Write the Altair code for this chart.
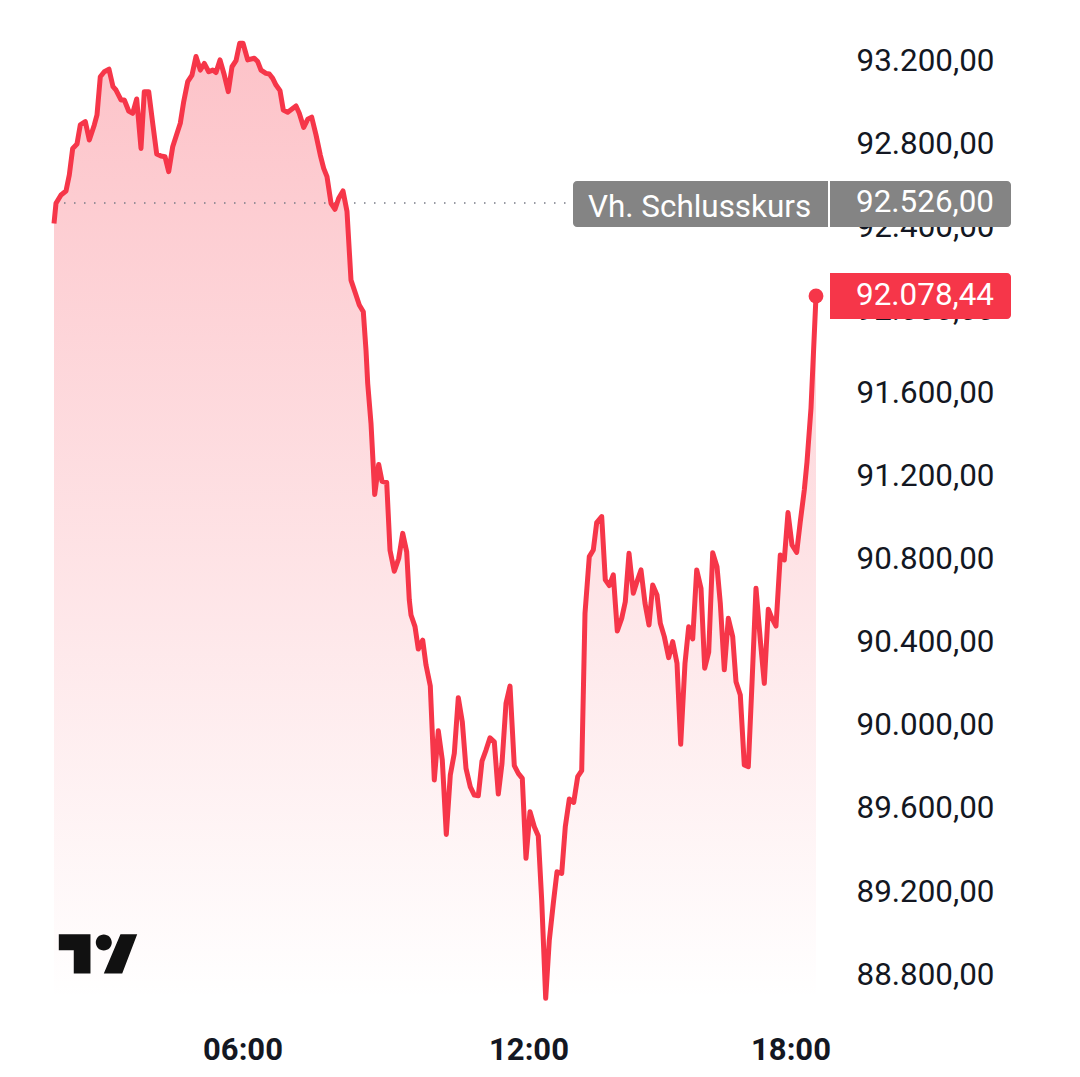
import altair as alt
import pandas as pd

# position along the session axis, and the price at that spot
session_pos = [
    0, 2, 7, 12, 15.3, 18.7, 23, 26.3, 31.3, 35.3, 40.3, 43, 46.3, 50.3, 55, 59, 62, 67, 70.3, 74.7,
    78.7, 82.7, 87, 90.3, 94.7, 98.7, 102.7, 107, 111, 114.7, 118.7, 122, 126.3, 129.7, 133.7, 138, 142,
    146.3, 150.3, 154.7, 158.7, 162, 166, 170.3, 174.3, 178, 182, 185.7, 189, 193.7, 200.3, 203.7, 207,
    212, 215.3, 218.7, 222, 226, 229.3, 233.7, 242, 245.3, 249.7, 253.7, 257.7, 262, 266.3, 269.7, 273,
    277, 281, 284.7, 289, 293, 297, 302, 305.3, 309.3, 312, 313.7, 317, 319.3, 320.7, 324.7, 328, 332.7,
    336, 340.3, 344.7, 348.7, 352.7, 355.3, 357, 361, 364.3, 368.7, 372, 376.3, 380.3, 384.3, 388.3,
    392.3, 396.3, 400.3, 404.3, 408.3, 412, 416.3, 420.3, 424.3, 428, 432, 436, 440.3, 444.3, 448, 452,
    456, 460.3, 464.3, 468.3, 472, 476, 480.3, 484.3, 487.7, 491.7, 495.3, 499.3, 503, 507.7, 511.3,
    515.3, 519.7, 523.7, 527.7, 531, 535.3, 539.3, 542.7, 547.7, 551.3, 555.3, 559.3, 563.3, 567.7,
    571.3, 575, 579.3, 583, 587, 591, 595, 598.7, 603, 606.3, 610.3, 614.7, 618.7, 623, 626.7, 631,
    634.7, 638.7, 642.7, 647, 650.7, 654.7, 658.7, 663, 666.3, 670.3, 674.3, 678.7, 682, 686.3, 690.3,
    694.3, 698, 702, 706.3, 710.3, 714.3, 718, 722, 726.3, 730.3, 734, 738, 742.7, 746.3, 750.3, 753,
    757, 762,
]
price = [
    92428, 92525, 92565, 92584, 92661, 92789, 92810, 92902, 92918, 92829, 92902, 92950, 93134, 93158,
    93170, 93086, 93070, 93022, 93022, 92969, 92958, 93027, 92789, 93062, 93062, 92910, 92762, 92752,
    92749, 92677, 92797, 92846, 92910, 93014, 93110, 93142, 93231, 93166, 93198, 93158, 93166, 93154,
    93215, 93142, 93062, 93182, 93211, 93295, 93295, 93215, 93223, 93207, 93166, 93150, 93147, 93126,
    93094, 93067, 92974, 92963, 92993, 92958, 92890, 92929, 92939, 92854, 92757, 92693, 92653, 92525,
    92496, 92549, 92584, 92485, 92155, 92083, 92035, 92003, 91818, 91658, 91465, 91256, 91123, 91268,
    91187, 91181, 90855, 90754, 90815, 90936, 90847, 90615, 90543, 90487, 90379, 90422, 90302, 90201,
    89749, 89986, 89845, 89487, 89773, 89877, 90145, 90029, 89805, 89716, 89676, 89673, 89840, 89893,
    89952, 89933, 89681, 89829, 90118, 90201, 89818, 89781, 89757, 89372, 89596, 89524, 89479, 89171,
    88698, 88978, 89155, 89307, 89299, 89524, 89657, 89641, 89765, 89794, 90551, 90824, 90856, 90988,
    91017, 90712, 90685, 90736, 90466, 90527, 90607, 90840, 90648, 90704, 90760, 90600, 90495, 90688,
    90640, 90503, 90439, 90338, 90415, 90311, 89921, 90311, 90487, 90428, 90760, 90672, 90287, 90364,
    90843, 90776, 90600, 90279, 90527, 90439, 90222, 90158, 89821, 89813, 90214, 90672, 90423, 90214,
    90571, 90527, 90490, 90832, 90808, 91036, 90880, 90845, 90993, 91145, 91280, 91539, 92078.44,
]

price_ticks = [93200, 92800, 92400, 92000, 91600, 91200, 90800, 90400, 90000, 89600, 89200, 88800]
time_ticks = [190, 476, 738]
time_labels = ["06:00", "12:00", "18:00"]

prev_close = 92526.0
last_price = 92078.44
close_label = "Vh. Schlusskurs"
floor_price = 88690

RED = "#f63649"
GREY = "#848484"
INK = "#131722"
FONT = "Roboto"

df = pd.DataFrame({"pos": session_pos, "price": price})
df["floor"] = floor_price

x_scale = alt.Scale(domain=[0, 762])
y_scale = alt.Scale(domain=[floor_price, 93407], zero=False)

time_expr = "{" + ",".join(f"{p}:'{t}'" for p, t in zip(time_ticks, time_labels)) + "}[datum.value]"
price_expr = "replace(replace(replace(format(datum.value,',.2f'),',','#'),'.',','),'#','.')"

x_enc = alt.X("pos:Q", scale=x_scale, axis=alt.Axis(
    title=None, values=time_ticks, labelExpr=time_expr, grid=False, domain=False, ticks=False,
    labelFont=FONT, labelFontSize=31, labelFontWeight="bold", labelColor=INK, labelPadding=35,
    labelOffset=-1.5,
))
y_enc = alt.Y("price:Q", scale=y_scale, axis=alt.Axis(
    title=None, orient="right", values=price_ticks, labelExpr=price_expr, grid=False, domain=False,
    ticks=False, labelFont=FONT, labelFontSize=31.4, labelColor=INK, labelPadding=40, labelOffset=-2,
    labelBound=False, labelOverlap=False,
))

area = alt.Chart(df).mark_area(
    color=alt.Gradient(
        gradient="linear", x1=0, x2=0, y1=0, y2=1,
        stops=[
            alt.GradientStop(color="rgba(247,54,73,0.30)", offset=0),
            alt.GradientStop(color="rgba(247,54,73,0.0)", offset=1),
        ],
    ),
).encode(x=x_enc, y=y_enc, y2="floor:Q")

dotted = alt.Chart(df.head(1)).mark_rule(color="#787b86", strokeWidth=1.5, strokeDash=[1.5, 8.5]).encode(
    x=alt.datum(0, scale=x_scale), x2=alt.datum(517),
    y=alt.datum(prev_close, scale=y_scale),
)

line = alt.Chart(df).mark_line(color=RED, strokeWidth=5, strokeJoin="round").encode(
    x=alt.X("pos:Q", scale=x_scale), y=alt.Y("price:Q", scale=y_scale),
)

dot = alt.Chart(df.tail(1)).mark_circle(color=RED, size=220, opacity=1).encode(
    x=alt.X("pos:Q", scale=x_scale), y=alt.Y("price:Q", scale=y_scale),
)


def badge(start, end, level, colour, left=False, right=False):
    return alt.Chart(df.head(1)).mark_rect(
        color=colour, height=46,
        cornerRadiusTopLeft=4 if left else 0, cornerRadiusBottomLeft=4 if left else 0,
        cornerRadiusTopRight=4 if right else 0, cornerRadiusBottomRight=4 if right else 0,
    ).encode(
        x=alt.datum(start, scale=x_scale), x2=alt.datum(end),
        y=alt.datum(level, scale=y_scale),
    )


def badge_text(text, at, level, align, nudge):
    return alt.Chart(df.head(1)).mark_text(
        text=text, font=FONT, fontSize=31.4, color="white", align=align, baseline="middle", dy=nudge,
    ).encode(x=alt.datum(at, scale=x_scale), y=alt.datum(level, scale=y_scale))


# TradingView mark, unit coordinates around its centre
logo_path = (
    "M-0.49 -0.246L-0.094 -0.246L-0.094 0.245L-0.303 0.245L-0.303 -0.046L-0.49 -0.046Z"
    "M-0.0275 -0.1425A0.1 0.1 0 1 0 0.1725 -0.1425A0.1 0.1 0 1 0 -0.0275 -0.1425Z"
    "M0.281 -0.246L0.49 -0.246L0.3025 0.245L0.0725 0.245Z"
)
logo = alt.Chart(df.head(1)).mark_point(
    shape=logo_path, size=25600, filled=True, color="#111111", opacity=1, strokeWidth=0,
).encode(x=alt.value(44), y=alt.value(934))

chart = alt.layer(
    area, dotted, line, dot,
    badge(519, 774, prev_close - 5, GREY, left=True),
    badge(776, 957, prev_close - 5, GREY, right=True),
    badge(776, 957, last_price, RED, right=True),
    badge_text(close_label, 534, prev_close, "left", 5),
    badge_text("92.526,00", 940, prev_close, "right", 0),
    badge_text("92.078,44", 940, last_price, "right", 0),
    logo,
).properties(
    width=762, height=980,
    padding={"left": 43, "top": 12, "right": 0, "bottom": 10},
    background="white",
).configure_view(stroke=None)

chart.save("out.html", embed_options={"renderer": "svg", "actions": False})
